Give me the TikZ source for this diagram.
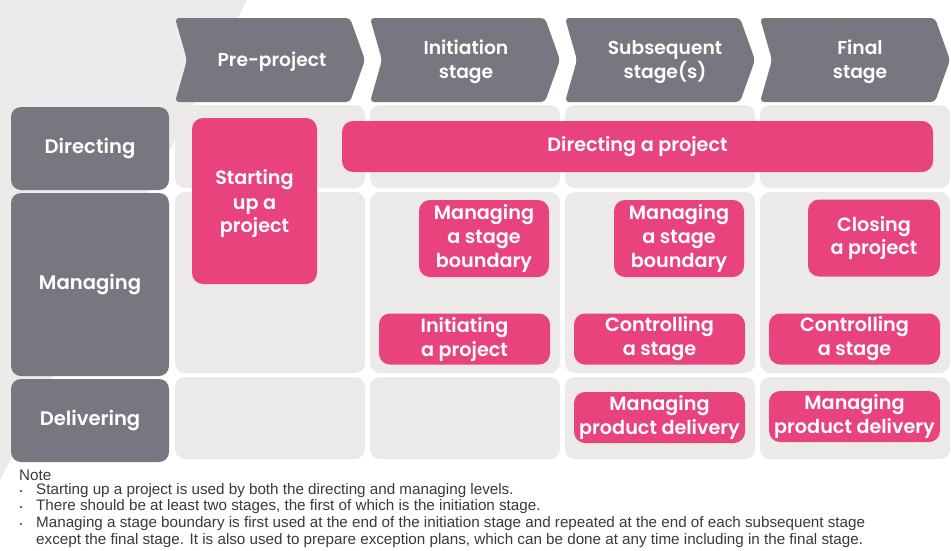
\documentclass[tikz,border=0pt]{standalone}
\usepackage{fontspec}
\setmainfont{Poppins}
\newfontfamily\labfont{Poppins SemiBold}
\newfontfamily\notefont{Liberation Sans}
\definecolor{pinkc}{HTML}{E9437D}
\definecolor{darkg}{HTML}{77787F}
\definecolor{cellg}{HTML}{EBEAE8}
\definecolor{bgg}{HTML}{EBEBEB}
\definecolor{notec}{HTML}{3A3A3A}
\tikzset{
  pinkbox/.style={fill=pinkc, rounded corners=11pt, text=white, align=center, inner sep=0pt,
    font=\labfont\fontsize{19.2}{24}\selectfont},
  rowbox/.style={fill=darkg, rounded corners=10pt, text=white, align=center, inner sep=0pt,
    minimum width=158pt, font=\labfont\fontsize{19.6}{24}\selectfont},
  chevtext/.style={text=white, align=center, inner sep=0pt, font=\labfont\fontsize{18.7}{24}\selectfont},
  chevshape/.style={fill=darkg, rounded corners=4pt},
  cellbox/.style={fill=cellg, rounded corners=10pt},
  notetext/.style={anchor=west, inner sep=0pt, text=notec, font=\notefont\fontsize{15.2}{16}\selectfont},
  bulletdot/.style={fill=notec},
}
\begin{document}
\begin{tikzpicture}[x=1pt,y=-1pt]
\useasboundingbox (0,0) rectangle (951,550);
\fill[white] (0,0) rectangle (951,550);
\fill[bgg] (0,0) -- (247,0) -- (0,480) -- cycle;

% chevrons
\foreach \x in {175,370,565,760}{
  \fill[chevshape] (\x,18) -- (\x+175,18) -- (\x+190,60) -- (\x+175,102) -- (\x,102) -- (\x+12,60) -- cycle;
}
\node[chevtext] (pre) at (272,62) {Pre-project};
\node[chevtext] (ini) at (466,62) {Initiation\\stage};
\node[chevtext] (sub) at (665,62) {Subsequent\\stage(s)};
\node[chevtext] (fin) at (860,62) {Final\\stage};

% cells
\foreach \x in {175,370,565,760}{
  \fill[cellbox] (\x,105) rectangle (\x+190,188);
  \fill[cellbox] (\x,192) rectangle (\x+190,373);
  \fill[cellbox] (\x,377) rectangle (\x+190,459);
}

% row labels
\node[rowbox, minimum height=83pt] (dir) at (90,148.5) {Directing};
\node[rowbox, minimum height=183pt] (man) at (90,284.5) {Managing};
\node[rowbox, minimum height=83pt] (del) at (90,420.5) {Delivering};

% processes
\node[pinkbox, minimum width=125pt, minimum height=166pt] (sup) at (254.5,201) {};
\node[pinkbox] (supt) at (254.5,204) {Starting\\up a\\project};
\node[pinkbox, minimum width=591pt, minimum height=51pt] (dap) at (637.5,146.5) {Directing a project};
\node[pinkbox, minimum width=130pt, minimum height=77pt] (msb1) at (484,238.5) {Managing\\a stage\\boundary};
\node[pinkbox, minimum width=130pt, minimum height=77pt] (msb2) at (679,238.5) {Managing\\a stage\\boundary};
\node[pinkbox, minimum width=132pt, minimum height=77pt] (cp) at (874,238) {Closing\\a project};
\node[pinkbox, minimum width=171pt, minimum height=51pt] (ip) at (464.5,339) {Initiating\\a project};
\node[pinkbox, minimum width=171pt, minimum height=51pt] (cs1) at (659.5,339) {Controlling\\a stage};
\node[pinkbox, minimum width=171pt, minimum height=51pt] (cs2) at (854.5,339) {Controlling\\a stage};
\node[pinkbox, minimum width=171pt, minimum height=51pt] (mpd1) at (659.5,417.5) {Managing\\product delivery};
\node[pinkbox, minimum width=171pt, minimum height=51pt] (mpd2) at (854.5,416.5) {Managing\\product delivery};

% note
\node[notetext] (note) at (19,475) {Note};
\foreach \y in {491,507,524}{
  \fill[bulletdot] (21,\y) circle (1.1pt);
}
\node[notetext] (n1) at (36,491) {Starting up a project is used by both the directing and managing levels.};
\node[notetext] (n2) at (36,507) {There should be at least two stages, the first of which is the initiation stage.};
\node[notetext] (n3) at (36,524) {Managing a stage boundary is first used at the end of the initiation stage and repeated at the end of each subsequent stage};
\node[notetext] (n4) at (36,541) {except the final stage. It is also used to prepare exception plans, which can be done at any time including in the final stage.};
\end{tikzpicture}
\end{document}
